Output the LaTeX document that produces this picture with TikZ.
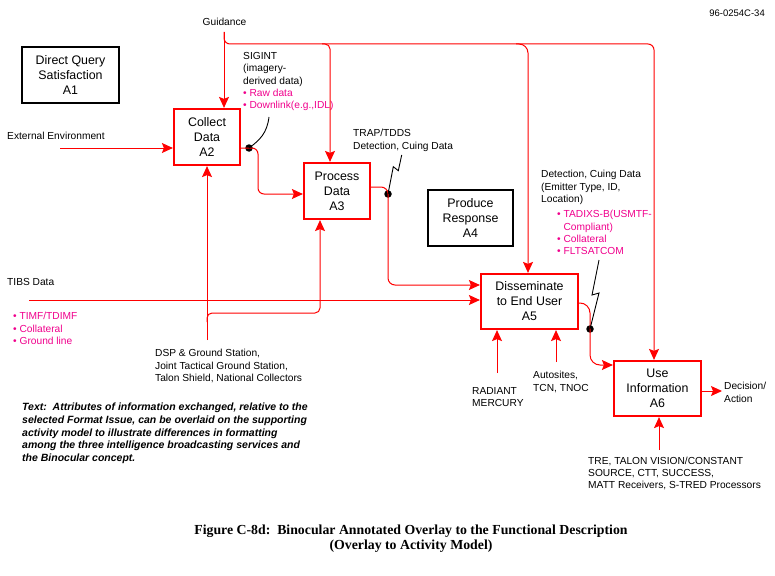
\documentclass[tikz,border=0pt]{standalone}
\usepackage{fontspec}
\setmainfont{Liberation Sans}
\newfontfamily\capfont{Liberation Serif}
\usetikzlibrary{arrows.meta}
\definecolor{redc}{RGB}{255,0,0}
\definecolor{pinkc}{RGB}{240,0,140}
\begin{document}
\begin{tikzpicture}[x=1pt,y=-1pt,
  box/.style={draw=redc,line width=2.2pt,inner sep=0pt,align=center,
    font=\fontsize{12.4}{15}\selectfont},
  bbox/.style={box,draw=black},
  lab/.style={inner sep=0pt,align=left,font=\fontsize{10.2}{12.3}\selectfont},
  plab/.style={lab,text=pinkc},
  conn/.style={draw=redc,line width=1pt},
  tip/.style={-{Stealth[length=11pt,width=10pt,inset=2pt]}},
  lead/.style={draw=black,line width=0.9pt},
  dot/.style={circle,fill=black,inner sep=0pt,minimum size=7.5pt}]
\useasboundingbox (0,0) rectangle (775,575);

% boxes
\node[bbox,minimum width=97pt,minimum height=56pt] (A1) at (70.5,75) {Direct Query\\Satisfaction\\A1};
\node[box,minimum width=66pt,minimum height=56pt] (A2) at (207,137) {Collect\\Data\\A2};
\node[box,minimum width=66pt,minimum height=56pt] (A3) at (337,191) {Process\\Data\\A3};
\node[bbox,minimum width=85pt,minimum height=56pt] (A4) at (470.5,218) {Produce\\Response\\A4};
\node[box,minimum width=97pt,minimum height=55pt] (A5) at (529.5,301.5) {Disseminate\\to End User\\A5};
\node[box,minimum width=87pt,minimum height=55pt] (A6) at (657.5,388.5) {Use\\Information\\A6};

% labels
\node[lab,anchor=east,font=\fontsize{9.5}{12}\selectfont] (id) at (765,13) {96-0254C-34};
\node[lab] (guid) at (224.5,22) {Guidance};
\node[lab,anchor=west] (ext) at (7,136) {External Environment};
\node[lab,anchor=north west] (sig) at (243,52.3) {SIGINT\\(imagery-\\derived data)\\\textcolor{pinkc}{• Raw data}\\\textcolor{pinkc}{• Downlink(e.g.,IDL)}};
\node[lab,anchor=north west] (trap) at (353,129.3) {TRAP/TDDS\\Detection, Cuing Data};
\node[lab,anchor=north west] (det) at (541,170.3) {Detection, Cuing Data\\(Emitter Type, ID,\\Location)};
\node[plab,anchor=north west] (detp) at (557,210.3) {• TADIXS-B(USMTF-\\\hphantom{• }Compliant)\\• Collateral\\• FLTSATCOM};
\node[lab,anchor=west] (tibs) at (7,282) {TIBS Data};
\node[plab,anchor=north west] (tibsp) at (13,312.3) {• TIMF/TDIMF\\• Collateral\\• Ground line};
\node[lab,anchor=north west] (dsp) at (155,349.3) {DSP \& Ground Station,\\Joint Tactical Ground Station,\\Talon Shield, National Collectors};
\node[lab,anchor=north west] (rad) at (472,387.3) {RADIANT\\MERCURY};
\node[lab,anchor=north west] (auto) at (533,371.3) {Autosites,\\TCN, TNOC};
\node[lab,anchor=north west] (dec) at (724,382.3) {Decision/\\Action};
\node[lab,anchor=north west] (tre) at (588,456.8) {TRE, TALON VISION/CONSTANT\\SOURCE, CTT, SUCCESS,\\MATT Receivers, S-TRED Processors};
\node[lab,anchor=north west,font=\fontsize{10.5}{12.7}\selectfont\bfseries\itshape] (txt) at (22,402.8)
  {Text:\ \ Attributes of information exchanged, relative to the\\selected Format Issue, can be overlaid on the supporting\\activity model to illustrate differences in formatting\\among the three intelligence broadcasting services and\\the Binocular concept.};
\node[inner sep=0pt,align=center,font=\capfont\bfseries\fontsize{13.8}{15.5}\selectfont] (cap) at (411,538.5)
  {Figure C-8d:\ \ Binocular Annotated Overlay to the Functional Description\\(Overlay to Activity Model)};

% dots
\node[dot] (d2) at (249,148) {};
\node[dot] (d3) at (388,194) {};
\node[dot] (d5) at (590,329) {};

% guidance
\coordinate (g0) at (224,32);
\coordinate (gE) at (654,44);
\draw[conn,tip] (g0) -- (g0 |- A2.north);
\draw[conn,tip,rounded corners=6] (g0) |- (gE) -- (gE |- A6.north);
\coordinate (g3) at (330,44);
\coordinate (g5) at (528,44);
\draw[conn,tip,rounded corners=5] (322,44) -| (g3 |- A3.north);
\draw[conn,tip,rounded corners=9] (516,44) -| (g5 |- A5.north);

% inputs
\coordinate (e0) at (60,148);
\draw[conn,tip] (e0) -- (A2.west |- e0);
\coordinate (t0) at (29,300);
\draw[conn,tip] (t0) -- (A5.west |- t0);

% A2 -> A3
\draw[conn,tip,rounded corners=6] (A2.east |- d2) -| (258,194) -- (A3.west |- 0,194);
% A3 -> A5
\draw[conn,tip,rounded corners=7] (A3.east |- 0,187) -| (388,285) -- (A5.west |- 0,285);
% A5 -> A6
\draw[conn,tip,rounded corners=10] (A5.east |- 0,303) -| (590,365) -- (A6.west |- 0,365);
% A6 output
\draw[conn,tip] (A6.east |- 0,391) -- (722,391);

% mechanisms
\coordinate (m2) at (207,340);
\draw[conn,tip] (m2) -- (m2 |- A2.south);
\draw[conn,tip,rounded corners=5] (207,322) |- (320,313) -- (A3.south -| 320,0);
\coordinate (m5a) at (497,373);
\draw[conn,tip] (m5a) -- (m5a |- A5.south);
\coordinate (m5b) at (556,362);
\draw[conn,tip] (m5b) -- (m5b |- A5.south);
\coordinate (m6) at (659,450);
\draw[conn,tip] (m6) -- (m6 |- A6.south);

% leaders
\draw[lead] (269,117) .. controls (267,133) and (260,140) .. (d2.center);
\draw[lead] (401.7,155) -- (398.3,170.7) -- (393.3,166.7) -- (d3.center);
\draw[lead] (599,260) -- (592,295) -- (599,293) -- (d5.center);
\end{tikzpicture}
\end{document}
